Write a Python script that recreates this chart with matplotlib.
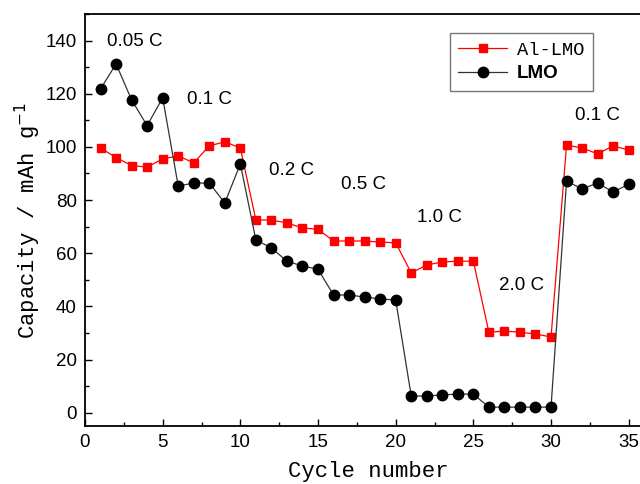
import matplotlib
matplotlib.use("Agg")
import matplotlib.pyplot as plt
from matplotlib.ticker import MultipleLocator

cycles = list(range(1, 36))
al_lmo = [99.6, 96.0, 93.0, 92.4, 95.5, 96.6, 94.0, 100.4, 101.9, 99.6,
          72.5, 72.5, 71.4, 69.5, 69.0, 64.6, 64.6, 64.6, 64.2, 63.9,
          52.6, 55.6, 56.7, 57.0, 57.0, 30.3, 30.7, 30.3, 29.6, 28.5,
          100.7, 99.6, 97.4, 100.4, 98.8]
lmo = [121.8, 131.2, 117.7, 108.0, 118.5, 85.3, 86.4, 86.4, 78.9, 93.6,
       65.0, 62.0, 57.0, 55.2, 54.0, 44.3, 44.3, 43.5, 42.8, 42.4,
       6.3, 6.3, 6.7, 7.0, 7.0, 2.1, 2.1, 2.1, 2.1, 2.1,
       87.1, 84.2, 86.4, 83.0, 86.0]

rate_labels = ["0.05 C", "0.1 C", "0.2 C", "0.5 C", "1.0 C", "2.0 C", "0.1 C"]
rate_x = [3.2, 8.0, 13.3, 17.9, 22.8, 28.1, 33.0]
rate_y = [139.5, 117.7, 91.3, 85.7, 73.3, 48.0, 112.0]

fig = plt.figure(figsize=(6.4, 4.84), dpi=100)
ax = fig.add_axes([85 / 640, 58 / 484, 567 / 640, 412 / 484])

ax.plot(cycles, al_lmo, color="red", lw=0.9, marker="s", ms=6,
        mfc="red", mec="red", label="Al-LMO")
ax.plot(cycles, lmo, color="#333333", lw=0.9, marker="o", ms=7.5,
        mfc="black", mec="black", label="LMO")

for lab, x, y in zip(rate_labels, rate_x, rate_y):
    ax.text(x, y, lab, ha="center", va="center", fontsize=13.5,
            family="Liberation Sans")

ax.set_xlim(0, 36.5)
ax.set_ylim(-5, 150)
ax.xaxis.set_major_locator(MultipleLocator(5))
ax.xaxis.set_minor_locator(MultipleLocator(2.5))
ax.yaxis.set_major_locator(MultipleLocator(20))
ax.yaxis.set_minor_locator(MultipleLocator(10))
ax.tick_params(which="both", direction="in", top=False, right=False,
               labelsize=13.5, width=1)
ax.tick_params(which="major", length=5, pad=6)
ax.tick_params(which="minor", length=3)
for lbl in ax.get_xticklabels() + ax.get_yticklabels():
    lbl.set_family("Liberation Sans")
for sp in ax.spines.values():
    sp.set_linewidth(1.3)

ax.set_xlabel("Cycle number", family="Liberation Mono", fontsize=16,
              labelpad=7)
ax.set_ylabel("Capacity / mAh g$^{-1}$", family="Liberation Mono",
              fontsize=16, labelpad=2)

leg = ax.legend(loc="upper left",
                bbox_to_anchor=((450 - 85) / 567, 1 - 19 / 412),
                fontsize=13.5, fancybox=False, edgecolor="#555555",
                handlelength=2.6, handletextpad=0.5, borderpad=0.45,
                labelspacing=0.35, borderaxespad=0)
leg.get_frame().set_linewidth(1)
texts = leg.get_texts()
texts[0].set_family("Liberation Mono")
texts[1].set_family("Liberation Sans")
texts[1].set_fontweight("bold")

fig.savefig("out.png", dpi=100)
